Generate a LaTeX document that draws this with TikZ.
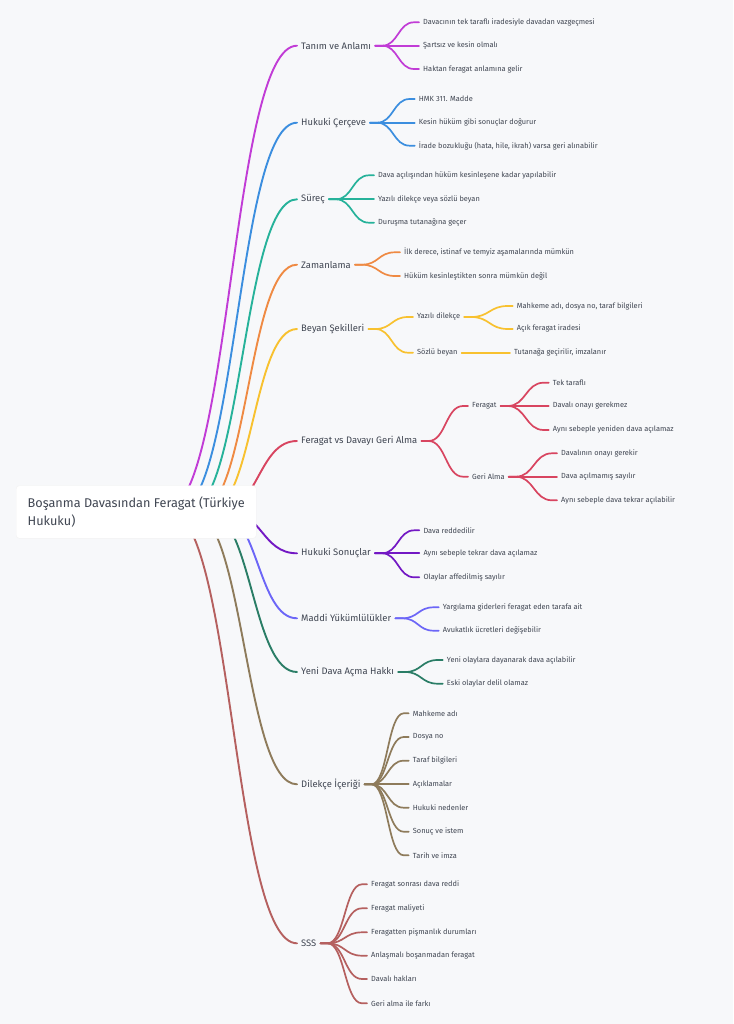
\documentclass[tikz,border=0pt]{standalone}
\usepackage{fontspec}
\setmainfont{Fira Sans}
\usetikzlibrary{calc}
\definecolor{bg}{HTML}{F7F8FA}
\definecolor{txt}{HTML}{404652}
\definecolor{ca}{HTML}{C13CD6}
\definecolor{cb}{HTML}{3B8EDF}
\definecolor{cc}{HTML}{26B29A}
\definecolor{cd}{HTML}{EF8A43}
\definecolor{ce}{HTML}{F8C12F}
\definecolor{cf}{HTML}{D84560}
\definecolor{cg}{HTML}{7318C4}
\definecolor{ch}{HTML}{6C66F7}
\definecolor{ci}{HTML}{2A7D66}
\definecolor{cj}{HTML}{8E7B5B}
\definecolor{ck}{HTML}{B5605F}
\tikzset{
  l1/.style={anchor=west, font=\fontsize{9.4}{11}\selectfont, text=txt, inner xsep=4pt, inner ysep=0pt},
  l2/.style={anchor=west, font=\fontsize{7.4}{9}\selectfont, text=txt, inner xsep=4pt, inner ysep=0pt},
  rootbox/.style={anchor=west, fill=white, draw=black!5, rounded corners=3pt, minimum width=240pt, minimum height=52.6pt, inner xsep=10pt, align=left, font=\fontsize{12.7}{17.7}\selectfont, text=txt},
  rl/.style={line width=1.9pt, line cap=round},
  sl/.style={line width=1.7pt, line cap=round},
  hb/.style={to path={let \p1=(\tikztostart), \p2=(\tikztotarget) in .. controls ({(\x1+\x2)/2},\y1) and ({(\x1+\x2)/2},\y2) .. (\tikztotarget)}},
  fan/.style={to path={let \p1=(\tikztostart), \p2=(\tikztotarget) in -- ({\x1+7pt},\y1) .. controls ({(\x1+\x2)/2+1pt},\y1) and ({(\x1+\x2)/2+1pt},\y2) .. ({\x2-5pt},\y2) -- (\tikztotarget)}},
}
\begin{document}
\begin{tikzpicture}[x=1pt,y=-1pt]
\fill[bg] (0,0) rectangle (733,1024);
\useasboundingbox (0,0) rectangle (733,1024);
% link start points (hidden behind root)
\coordinate (s1) at (165,511);
\coordinate (s2) at (177,511);
\coordinate (s3) at (188,511);
\coordinate (s4) at (199,511);
\coordinate (s5) at (209,511);
\coordinate (s6) at (220,511);
\coordinate (s7) at (227,511);
\coordinate (s8) at (219,511);
\coordinate (s9) at (207,511);
\coordinate (s10) at (192,511);
\coordinate (s11) at (169,511);
% level 1
\node[l1] (n1) at (297,45.7) {Tanım ve Anlamı};
\node[l1] (n2) at (297,122.7) {Hukuki Çerçeve};
\node[l1] (n3) at (297,199.3) {Süreç};
\node[l1] (n4) at (297,264.7) {Zamanlama};
\node[l1] (n5) at (297,329) {Beyan Şekilleri};
\node[l1] (n6) at (297,441) {Feragat vs Davayı Geri Alma};
\node[l1] (n7) at (297,553.3) {Hukuki Sonuçlar};
\node[l1] (n8) at (297,618.3) {Maddi Yükümlülükler};
\node[l1] (n9) at (297,672) {Yeni Dava Açma Hakkı};
\node[l1] (n10) at (297,784.3) {Dilekçe İçeriği};
\node[l1] (n11) at (297,943.3) {SSS};
% level 2+
\node[l2] (n1a) at (419,22.3) {Davacının tek taraflı iradesiyle davadan vazgeçmesi};
\node[l2] (n1b) at (419,45.7) {Şartsız ve kesin olmalı};
\node[l2] (n1c) at (419,69) {Haktan feragat anlamına gelir};
\node[l2] (n2a) at (414.7,99) {HMK 311. Madde};
\node[l2] (n2b) at (414.7,122.7) {Kesin hüküm gibi sonuçlar doğurur};
\node[l2] (n2c) at (414.7,145.7) {İrade bozukluğu (hata, hile, ikrah) varsa geri alınabilir};
\node[l2] (n3a) at (374,175.3) {Dava açılışından hüküm kesinleşene kadar yapılabilir};
\node[l2] (n3b) at (374,199.3) {Yazılı dilekçe veya sözlü beyan};
\node[l2] (n3c) at (374,222.7) {Duruşma tutanağına geçer};
\node[l2] (n4a) at (400,252.3) {İlk derece, istinaf ve temyiz aşamalarında mümkün};
\node[l2] (n4b) at (400,276) {Hüküm kesinleştikten sonra mümkün değil};
\node[l2] (n5a) at (413,317) {Yazılı dilekçe};
\node[l2] (n5b) at (413,352.7) {Sözlü beyan};
\node[l2] (n5a1) at (512.7,306) {Mahkeme adı, dosya no, taraf bilgileri};
\node[l2] (n5a2) at (512.7,329) {Açık feragat iradesi};
\node[l2] (n5b1) at (510,352.7) {Tutanağa geçirilir, imzalanır};
\node[l2] (n6a) at (468,406) {Feragat};
\node[l2] (n6b) at (468,476.7) {Geri Alma};
\node[l2] (n6a1) at (548.7,382.7) {Tek taraflı};
\node[l2] (n6a2) at (548.7,406) {Davalı onayı gerekmez};
\node[l2] (n6a3) at (548.7,430) {Aynı sebeple yeniden dava açılamaz};
\node[l2] (n6b1) at (557,453.3) {Davalının onayı gerekir};
\node[l2] (n6b2) at (557,476.7) {Dava açılmamış sayılır};
\node[l2] (n6b3) at (557,500.3) {Aynı sebeple dava tekrar açılabilir};
\node[l2] (n7a) at (419.3,530.3) {Dava reddedilir};
\node[l2] (n7b) at (419.3,553.3) {Aynı sebeple tekrar dava açılamaz};
\node[l2] (n7c) at (419.3,577.3) {Olaylar affedilmiş sayılır};
\node[l2] (n8a) at (438.7,607.3) {Yargılama giderleri feragat eden tarafa ait};
\node[l2] (n8b) at (438.7,630.7) {Avukatlık ücretleri değişebilir};
\node[l2] (n9a) at (442.7,660) {Yeni olaylara dayanarak dava açılabilir};
\node[l2] (n9b) at (442.7,683.7) {Eski olaylar delil olamaz};
\node[l2] (n10a) at (408.7,713.3) {Mahkeme adı};
\node[l2] (n10b) at (408.7,737) {Dosya no};
\node[l2] (n10c) at (408.7,760.7) {Taraf bilgileri};
\node[l2] (n10d) at (408.7,784.3) {Açıklamalar};
\node[l2] (n10e) at (408.7,807.7) {Hukuki nedenler};
\node[l2] (n10f) at (408.7,831.7) {Sonuç ve istem};
\node[l2] (n10g) at (408.7,855.3) {Tarih ve imza};
\node[l2] (n11a) at (367,884.3) {Feragat sonrası dava reddi};
\node[l2] (n11b) at (367,908.3) {Feragat maliyeti};
\node[l2] (n11c) at (367,932.3) {Feragatten pişmanlık durumları};
\node[l2] (n11d) at (367,955.7) {Anlaşmalı boşanmadan feragat};
\node[l2] (n11e) at (367,979) {Davalı hakları};
\node[l2] (n11f) at (367,1003.3) {Geri alma ile farkı};
% root links
\draw[rl,ca] (s1) to[hb] (n1.west);
\draw[rl,cb] (s2) to[hb] (n2.west);
\draw[rl,cc] (s3) to[hb] (n3.west);
\draw[rl,cd] (s4) to[hb] (n4.west);
\draw[rl,ce] (s5) to[hb] (n5.west);
\draw[rl,cf] (s6) to[hb] (n6.west);
\draw[rl,cg] (s7) to[hb] (n7.west);
\draw[rl,ch] (s8) to[hb] (n8.west);
\draw[rl,ci] (s9) to[hb] (n9.west);
\draw[rl,cj] (s10) to[hb] (n10.west);
\draw[rl,ck] (s11) to[hb] (n11.west);
% sub links
\draw[sl,ca] (n1.east) to[fan] (n1a.west);
\draw[sl,ca] (n1.east) to[fan] (n1b.west);
\draw[sl,ca] (n1.east) to[fan] (n1c.west);
\draw[sl,cb] (n2.east) to[fan] (n2a.west);
\draw[sl,cb] (n2.east) to[fan] (n2b.west);
\draw[sl,cb] (n2.east) to[fan] (n2c.west);
\draw[sl,cc] (n3.east) to[fan] (n3a.west);
\draw[sl,cc] (n3.east) to[fan] (n3b.west);
\draw[sl,cc] (n3.east) to[fan] (n3c.west);
\draw[sl,cd] (n4.east) to[fan] (n4a.west);
\draw[sl,cd] (n4.east) to[fan] (n4b.west);
\draw[sl,ce] (n5.east) to[fan] (n5a.west);
\draw[sl,ce] (n5.east) to[fan] (n5b.west);
\draw[sl,ce] (n5a.east) to[fan] (n5a1.west);
\draw[sl,ce] (n5a.east) to[fan] (n5a2.west);
\draw[sl,ce] (n5b.east) -- (n5b1.west);
\draw[sl,cf] (n6.east) to[fan] (n6a.west);
\draw[sl,cf] (n6.east) to[fan] (n6b.west);
\draw[sl,cf] (n6a.east) to[fan] (n6a1.west);
\draw[sl,cf] (n6a.east) to[fan] (n6a2.west);
\draw[sl,cf] (n6a.east) to[fan] (n6a3.west);
\draw[sl,cf] (n6b.east) to[fan] (n6b1.west);
\draw[sl,cf] (n6b.east) to[fan] (n6b2.west);
\draw[sl,cf] (n6b.east) to[fan] (n6b3.west);
\draw[sl,cg] (n7.east) to[fan] (n7a.west);
\draw[sl,cg] (n7.east) to[fan] (n7b.west);
\draw[sl,cg] (n7.east) to[fan] (n7c.west);
\draw[sl,ch] (n8.east) to[fan] (n8a.west);
\draw[sl,ch] (n8.east) to[fan] (n8b.west);
\draw[sl,ci] (n9.east) to[fan] (n9a.west);
\draw[sl,ci] (n9.east) to[fan] (n9b.west);
\draw[sl,cj] (n10.east) to[fan] (n10a.west);
\draw[sl,cj] (n10.east) to[fan] (n10b.west);
\draw[sl,cj] (n10.east) to[fan] (n10c.west);
\draw[sl,cj] (n10.east) to[fan] (n10d.west);
\draw[sl,cj] (n10.east) to[fan] (n10e.west);
\draw[sl,cj] (n10.east) to[fan] (n10f.west);
\draw[sl,cj] (n10.east) to[fan] (n10g.west);
\draw[sl,ck] (n11.east) to[fan] (n11a.west);
\draw[sl,ck] (n11.east) to[fan] (n11b.west);
\draw[sl,ck] (n11.east) to[fan] (n11c.west);
\draw[sl,ck] (n11.east) to[fan] (n11d.west);
\draw[sl,ck] (n11.east) to[fan] (n11e.west);
\draw[sl,ck] (n11.east) to[fan] (n11f.west);
% root on top
\node[rootbox] (root) at (16,512) {Boşanma Davasından Feragat (Türkiye\\Hukuku)};
\end{tikzpicture}
\end{document}
